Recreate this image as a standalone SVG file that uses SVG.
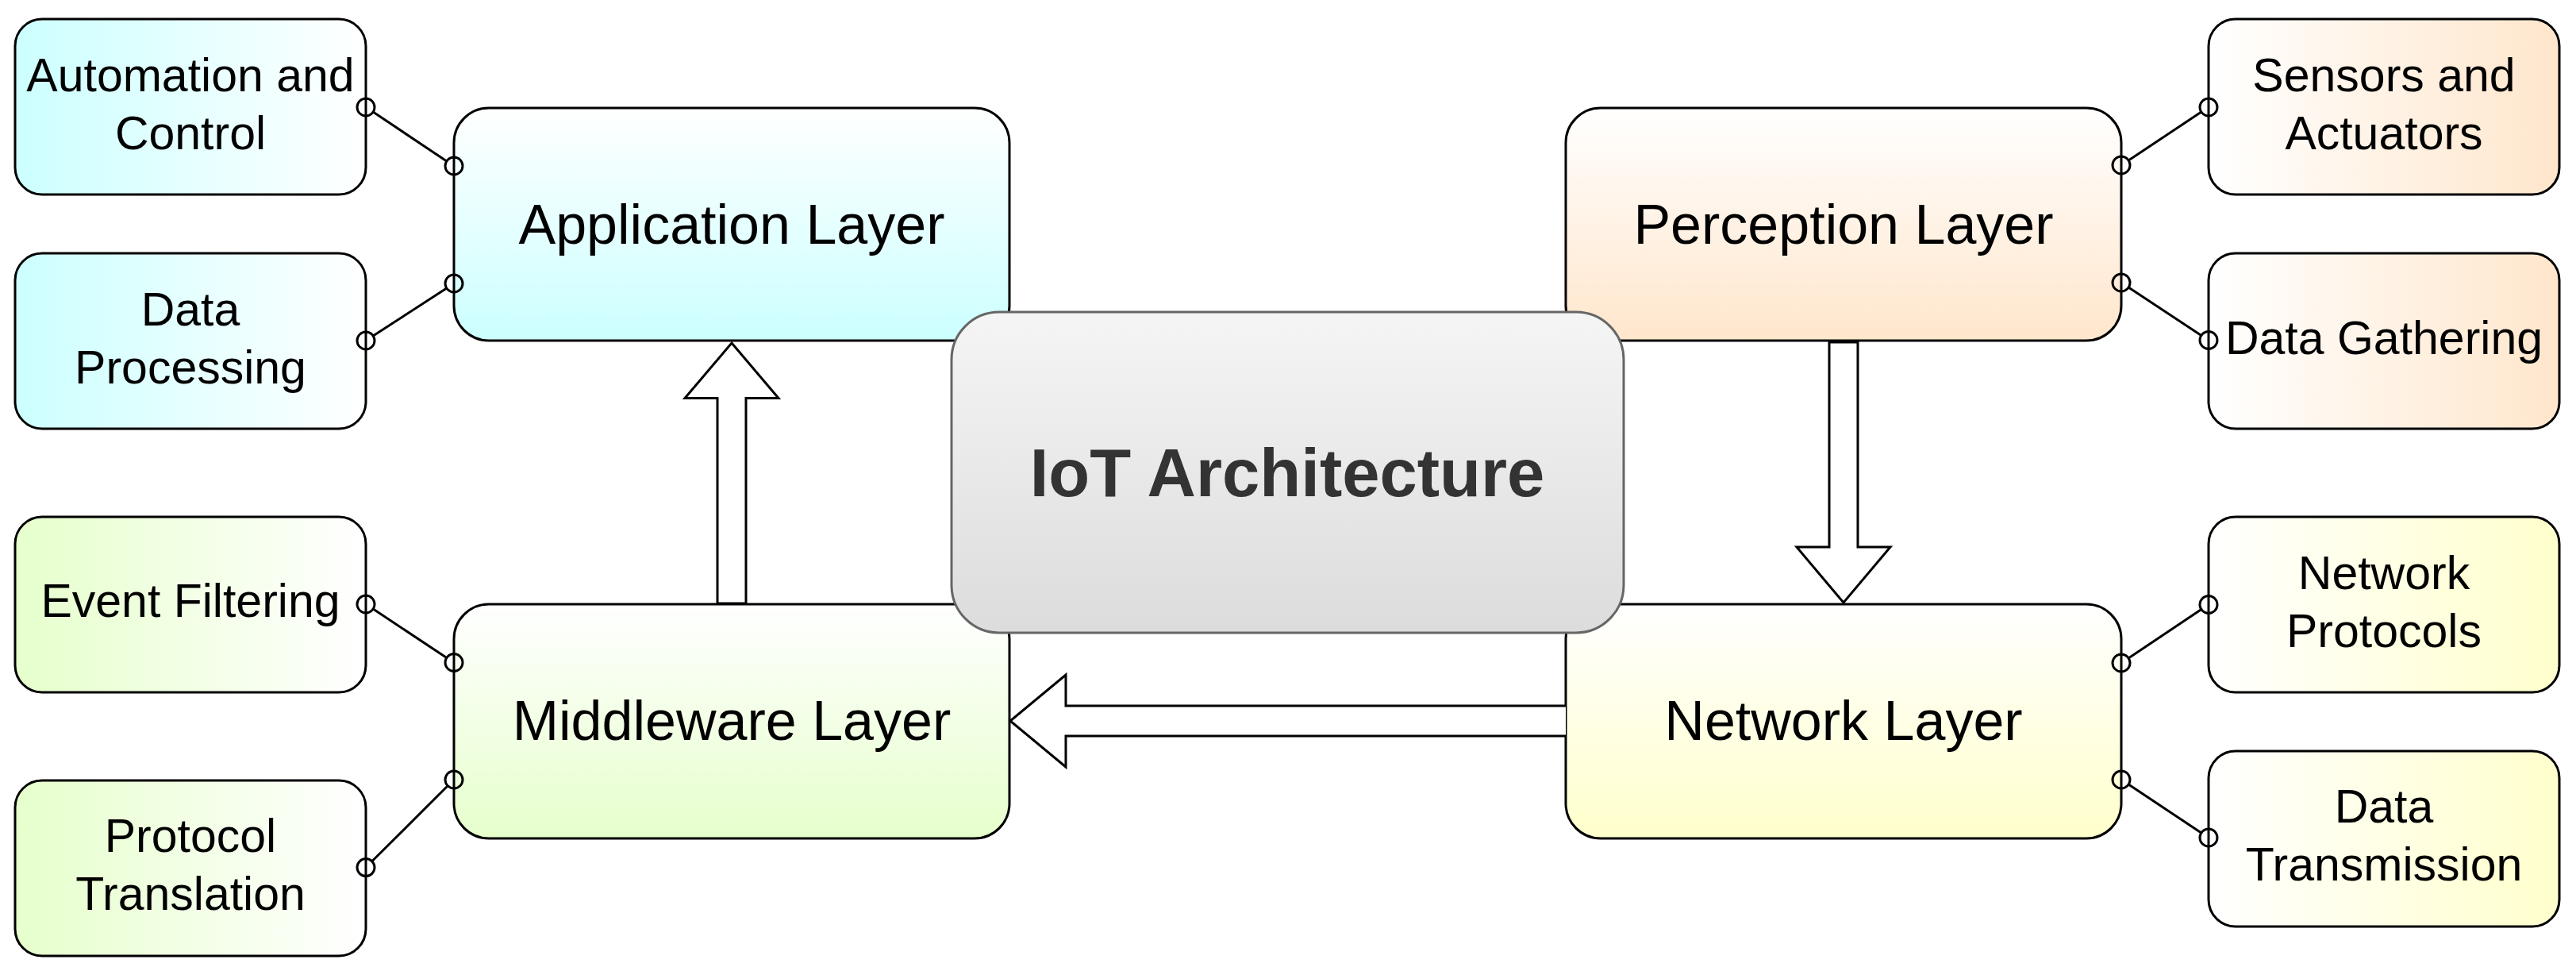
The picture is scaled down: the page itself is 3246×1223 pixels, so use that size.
<svg xmlns="http://www.w3.org/2000/svg" width="3246" height="1223" viewBox="0 0 3246 1223">
<defs>
<linearGradient id="gCyanH" x1="0" y1="0" x2="1" y2="0"><stop offset="0" stop-color="#ccffff"/><stop offset="1" stop-color="#ffffff"/></linearGradient>
<linearGradient id="gCyanV" x1="0" y1="0" x2="0" y2="1"><stop offset="0" stop-color="#ffffff"/><stop offset="1" stop-color="#ccffff"/></linearGradient>
<linearGradient id="gGreenH" x1="0" y1="0" x2="1" y2="0"><stop offset="0" stop-color="#e6ffcc"/><stop offset="1" stop-color="#ffffff"/></linearGradient>
<linearGradient id="gGreenV" x1="0" y1="0" x2="0" y2="1"><stop offset="0" stop-color="#ffffff"/><stop offset="1" stop-color="#e6ffcc"/></linearGradient>
<linearGradient id="gOrangeH" x1="0" y1="0" x2="1" y2="0"><stop offset="0" stop-color="#ffffff"/><stop offset="1" stop-color="#ffe6cc"/></linearGradient>
<linearGradient id="gOrangeV" x1="0" y1="0" x2="0" y2="1"><stop offset="0" stop-color="#ffffff"/><stop offset="1" stop-color="#ffe6cc"/></linearGradient>
<linearGradient id="gYellowH" x1="0" y1="0" x2="1" y2="0"><stop offset="0" stop-color="#ffffff"/><stop offset="1" stop-color="#ffffcc"/></linearGradient>
<linearGradient id="gYellowV" x1="0" y1="0" x2="0" y2="1"><stop offset="0" stop-color="#ffffff"/><stop offset="1" stop-color="#ffffcc"/></linearGradient>
<linearGradient id="gGray" x1="0" y1="0" x2="0" y2="1"><stop offset="0" stop-color="#f5f5f5"/><stop offset="1" stop-color="#dcdcdc"/></linearGradient>
</defs>
<style>
.box{stroke:#000000;stroke-width:3}
.t{font-family:"Liberation Sans",Arial,Helvetica,sans-serif;fill:#000000;text-anchor:middle}
.s{font-size:59px}
.l{font-size:70px}
.c{font-family:"Liberation Sans",Arial,Helvetica,sans-serif;font-size:85px;font-weight:bold;fill:#333333;text-anchor:middle}
.ln{stroke:#000000;stroke-width:3;fill:none}
.dot{stroke:#000000;stroke-width:3;fill:none}
.arr{stroke:#000000;stroke-width:3;fill:#ffffff;stroke-linejoin:miter}
</style>
<rect width="3246" height="1223" fill="#ffffff"/>
<g id="node-automation"><rect class="box" x="19" y="24" width="442" height="221" rx="34" fill="url(#gCyanH)"/><text class="t s" x="240" y="115">Automation and</text><text class="t s" x="240" y="187.5">Control</text></g>
<g id="node-data-processing"><rect class="box" x="19" y="319" width="442" height="221" rx="34" fill="url(#gCyanH)"/><text class="t s" x="240" y="410">Data</text><text class="t s" x="240" y="482.5">Processing</text></g>
<g id="node-event-filtering"><rect class="box" x="19" y="651" width="442" height="221" rx="34" fill="url(#gGreenH)"/><text class="t s" x="240" y="777">Event Filtering</text></g>
<g id="node-protocol-translation"><rect class="box" x="19" y="983" width="442" height="221" rx="34" fill="url(#gGreenH)"/><text class="t s" x="240" y="1073">Protocol</text><text class="t s" x="240" y="1145.5">Translation</text></g>
<g id="node-sensors"><rect class="box" x="2783" y="24" width="442" height="221" rx="34" fill="url(#gOrangeH)"/><text class="t s" x="3004" y="115">Sensors and</text><text class="t s" x="3004" y="187.5">Actuators</text></g>
<g id="node-data-gathering"><rect class="box" x="2783" y="319" width="442" height="221" rx="34" fill="url(#gOrangeH)"/><text class="t s" x="3004" y="446">Data Gathering</text></g>
<g id="node-network-protocols"><rect class="box" x="2783" y="651" width="442" height="221" rx="34" fill="url(#gYellowH)"/><text class="t s" x="3004" y="742">Network</text><text class="t s" x="3004" y="814.5">Protocols</text></g>
<g id="node-data-transmission"><rect class="box" x="2783" y="946" width="442" height="221" rx="34" fill="url(#gYellowH)"/><text class="t s" x="3004" y="1036">Data</text><text class="t s" x="3004" y="1109">Transmission</text></g>
<g id="node-application"><rect class="box" x="572" y="136" width="700" height="293" rx="44" fill="url(#gCyanV)"/><text class="t l" x="922" y="307">Application Layer</text></g>
<g id="node-perception"><rect class="box" x="1973" y="136" width="700" height="293" rx="44" fill="url(#gOrangeV)"/><text class="t l" x="2323" y="307">Perception Layer</text></g>
<g id="node-middleware"><rect class="box" x="572" y="761" width="700" height="295" rx="44" fill="url(#gGreenV)"/><text class="t l" x="922" y="932">Middleware Layer</text></g>
<g id="node-network"><rect class="box" x="1973" y="761" width="700" height="295" rx="44" fill="url(#gYellowV)"/><text class="t l" x="2323" y="932">Network Layer</text></g>
<g id="node-iot"><rect x="1199" y="393" width="847" height="404" rx="60" fill="url(#gGray)" stroke="#666666" stroke-width="3"/><text class="c" x="1622" y="625">IoT Architecture</text></g>
<g id="connectors">
<path class="arr" d="M922,432 L981,501.5 L940,501.5 L940,760 L904,760 L904,501.5 L863,501.5 Z"/>
<path class="arr" d="M2305,431 L2341,431 L2341,689 L2382,689 L2323,759 L2264,689 L2305,689 Z"/>
<path class="arr" d="M1973,889 L1343,889 L1343,850 L1273,908 L1343,966 L1343,927 L1973,927"/>
<line class="ln" x1="470.2" y1="141.1" x2="562.8" y2="202.9"/>
<line class="ln" x1="470.2" y1="423" x2="562.8" y2="363"/>
<line class="ln" x1="470.2" y1="767.1" x2="562.8" y2="828.4"/>
<line class="ln" x1="468.8" y1="1084.8" x2="564.2" y2="989.8"/>
<line class="ln" x1="2682.2" y1="201.9" x2="2773.8" y2="141.1"/>
<line class="ln" x1="2682.2" y1="362.1" x2="2773.8" y2="422.4"/>
<line class="ln" x1="2682.1" y1="828.9" x2="2773.9" y2="767.6"/>
<line class="ln" x1="2682.2" y1="988.1" x2="2773.8" y2="1048.9"/>
<circle class="dot" cx="461" cy="135" r="11"/><circle class="dot" cx="572" cy="209" r="11"/>
<circle class="dot" cx="461" cy="429" r="11"/><circle class="dot" cx="572" cy="357" r="11"/>
<circle class="dot" cx="461" cy="761" r="11"/><circle class="dot" cx="572" cy="834.5" r="11"/>
<circle class="dot" cx="461" cy="1092.6" r="11"/><circle class="dot" cx="572" cy="982" r="11"/>
<circle class="dot" cx="2673" cy="208" r="11"/><circle class="dot" cx="2783" cy="135" r="11"/>
<circle class="dot" cx="2673" cy="356" r="11"/><circle class="dot" cx="2783" cy="428.5" r="11"/>
<circle class="dot" cx="2673" cy="835" r="11"/><circle class="dot" cx="2783" cy="761.5" r="11"/>
<circle class="dot" cx="2673" cy="982" r="11"/><circle class="dot" cx="2783" cy="1055" r="11"/>
</g>
</svg>
